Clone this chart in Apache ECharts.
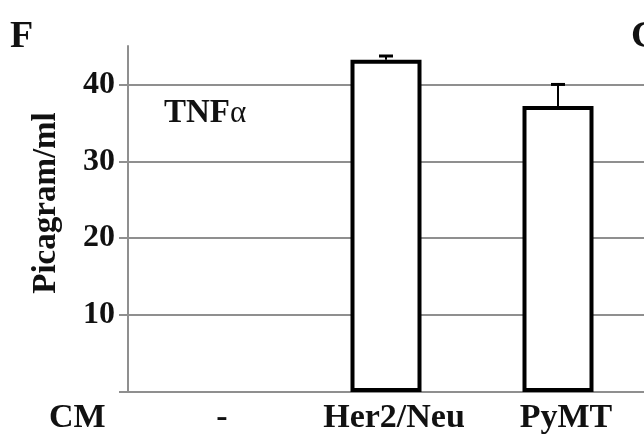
<!DOCTYPE html>
<html>
<head>
<meta charset="utf-8">
<script src="https://cdn.jsdelivr.net/npm/echarts@6/dist/echarts.min.js"></script>
<style>
  html, body { margin: 0; padding: 0; background: #fff; }
  #chart { width: 644px; height: 435px; }
</style>
</head>
<body>
<div id="chart"></div>
<script>
// Conditioned-medium sources on the x axis
const categories = ['-', 'Her2/Neu', 'PyMT'];
// TNFα concentration (pg/ml); control not detected
const tnfValues = [null, 43.2, 37.2];
// Upper error (SD) for each group
const tnfErrors = [null, 0.5, 2.8];
// Y-axis ticks
const yTicks = [0, 10, 20, 30, 40];

const SERIF = '"Liberation Serif", "Times New Roman", serif';
const AXIS_GREY = '#8f8f8f';

const chart = echarts.init(document.getElementById('chart'));

const errorData = categories.map((c, i) => [i, tnfValues[i], tnfErrors[i]])
  .filter(d => d[1] != null);

chart.setOption({
  animation: false,
  backgroundColor: '#fff',
  grid: { left: 128, right: -6, top: 46, bottom: 41, containLabel: false },
  xAxis: {
    type: 'category',
    data: categories,
    boundaryGap: true,
    axisLine: { show: true, lineStyle: { color: AXIS_GREY, width: 2 } },
    axisTick: { show: false },
    axisLabel: {
      interval: 0, hideOverlap: false,
      margin: 9,
      padding: [0, 0, 0, 16],
      fontFamily: SERIF, fontWeight: 'bold', fontSize: 34, color: '#111'
    },
    splitLine: { show: false }
  },
  yAxis: {
    type: 'value',
    min: 0, max: 45, interval: 10,
    axisLine: { show: true, lineStyle: { color: AXIS_GREY, width: 2 } },
    axisTick: {
      show: true, length: 9, inside: false,
      customValues: yTicks,
      lineStyle: { color: AXIS_GREY, width: 2 }
    },
    axisLabel: {
      customValues: yTicks.filter(v => v > 0),
      margin: 13,
      fontFamily: SERIF, fontWeight: 'bold', fontSize: 32, color: '#111'
    },
    splitLine: {
      show: true, showMinLine: false, showMaxLine: true,
      lineStyle: { color: AXIS_GREY, width: 2 }
    }
  },
  graphic: [
    { type: 'text', left: 10, top: 18,
      style: { text: 'F', font: 'bold 38px ' + SERIF, fill: '#111' } },
    { type: 'text', left: 631, top: 18,
      style: { text: 'G', font: 'bold 38px ' + SERIF, fill: '#111' } },
    { type: 'text', x: 46, y: 203, rotation: Math.PI / 2,
      style: { text: 'Picagram/ml', font: 'bold 33px ' + SERIF, fill: '#111',
               align: 'center', verticalAlign: 'middle' } },
    { type: 'text', left: 164, top: 97,
      style: {
        text: '{b|TNF}{a|α}',
        rich: {
          b: { fontFamily: SERIF, fontWeight: 'bold', fontSize: 33, fill: '#111', color: '#111' },
          a: { fontFamily: SERIF, fontWeight: 'normal', fontSize: 31, fill: '#111', color: '#111' }
        }
      } },
    { type: 'text', left: 49, top: 401,
      style: { text: 'CM', font: 'bold 34px ' + SERIF, fill: '#111' } }
  ],
  series: [
    {
      type: 'bar',
      data: tnfValues,
      barWidth: 71,
      itemStyle: { color: '#fff', borderColor: '#000', borderWidth: 4 },
      z: 3
    },
    {
      type: 'custom',
      data: errorData,
      z: 4,
      renderItem: function (params, api) {
        const x = api.value(0);
        const v = api.value(1);
        const e = api.value(2);
        const top = api.coord([x, v]);
        const end = api.coord([x, v + e]);
        const half = 7;
        return {
          type: 'group',
          children: [
            { type: 'line', shape: { x1: top[0], y1: top[1], x2: end[0], y2: end[1] },
              style: { stroke: '#000', lineWidth: 2 } },
            { type: 'line', shape: { x1: end[0] - half, y1: end[1], x2: end[0] + half, y2: end[1] },
              style: { stroke: '#000', lineWidth: 3 } }
          ]
        };
      }
    }
  ]
});
</script>
</body>
</html>
